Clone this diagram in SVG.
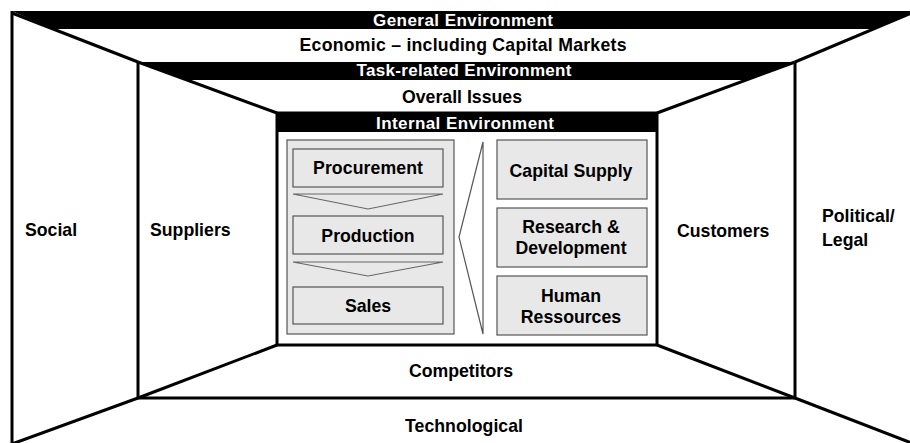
<svg xmlns="http://www.w3.org/2000/svg" width="910" height="443" viewBox="0 0 910 443">
<style>
text{font-family:"Liberation Sans",Arial,sans-serif;font-weight:bold;fill:#000;font-size:17.7px;}
.w{fill:#fff;}
.c{text-anchor:middle;}
.ln{stroke:#000;stroke-width:3;fill:none;}
.bar{fill:#000;}
.box{fill:#e8e8e8;stroke:#555;stroke-width:1.2;}
.chev{fill:#e8e8e8;stroke:#666;stroke-width:1.2;}
</style>
<rect x="0" y="0" width="910" height="443" fill="#fff"/>
<g id="frame">
  <polygon class="bar" points="12,11 914,11 874,29 53,29"/>
  <polygon class="bar" points="138,62 795,62 746,80 187,80"/>
  <line class="ln" x1="12" y1="11" x2="12" y2="445"/>
  <line class="ln" x1="12" y1="13" x2="138" y2="62"/>
  <line class="ln" x1="914" y1="12" x2="795" y2="62"/>
  <line class="ln" x1="138" y1="62" x2="277" y2="113"/>
  <line class="ln" x1="795" y1="62" x2="657" y2="113"/>
  <line class="ln" x1="277" y1="345" x2="138" y2="398"/>
  <line class="ln" x1="657" y1="345" x2="795" y2="398"/>
  <line class="ln" x1="138" y1="398" x2="12" y2="444"/>
  <line class="ln" x1="795" y1="398" x2="914" y2="444"/>
  <polyline class="ln" points="138,62 138,398 795,398 795,62"/>
</g>
<g id="general">
  <text class="w c" x="463" y="26" style="font-size:17px" textLength="180">General Environment</text>
</g>
<g id="economic">
  <text class="c" x="463" y="51" textLength="327">Economic – including Capital Markets</text>
</g>
<g id="task">
  <text class="w c" x="464" y="76" style="font-size:17px" textLength="215">Task-related Environment</text>
</g>
<g id="overall">
  <text class="c" x="462" y="103" textLength="120">Overall Issues</text>
</g>
<g id="social"><text x="25" y="236">Social</text></g>
<g id="suppliers"><text x="150" y="236">Suppliers</text></g>
<g id="customers"><text x="677" y="237">Customers</text></g>
<g id="political"><text x="822" y="222">Political/</text><text x="822" y="246">Legal</text></g>
<g id="competitors"><text class="c" x="461" y="377" textLength="104">Competitors</text></g>
<g id="technological"><text class="c" x="464" y="432" textLength="118">Technological</text></g>
<g id="internal">
  <rect x="277" y="113" width="380" height="232" fill="#fff" stroke="#000" stroke-width="3"/>
  <rect x="277" y="113" width="380" height="19" class="bar"/>
  <text class="w c" x="465" y="129" style="font-size:17px" textLength="178">Internal Environment</text>
</g>
<g id="chain">
  <rect class="box" x="287" y="140" width="167" height="194"/>
</g>
<g id="procurement">
  <rect class="box" x="293" y="149" width="150" height="38"/>
  <text class="c" x="368" y="174" textLength="110">Procurement</text>
</g>
<g id="production">
  <rect class="box" x="293" y="216" width="150" height="38"/>
  <text class="c" x="368" y="242">Production</text>
</g>
<g id="sales">
  <rect class="box" x="293" y="287" width="150" height="37"/>
  <text class="c" x="368" y="312">Sales</text>
</g>
<g id="connectors">
  <polygon class="chev" points="293,194 443,194 368,209"/>
  <polygon class="chev" points="293,262 443,262 368,276"/>
  <polygon fill="#fff" stroke="#555" stroke-width="1.2" points="483,142 483,334 459,237"/>
</g>
<g id="capital">
  <rect class="box" x="497" y="140" width="150" height="59"/>
  <text class="c" x="571" y="177">Capital Supply</text>
</g>
<g id="research">
  <rect class="box" x="497" y="208" width="150" height="59"/>
  <text class="c" x="571" y="233">Research &amp;</text>
  <text class="c" x="571" y="254">Development</text>
</g>
<g id="human">
  <rect class="box" x="497" y="276" width="150" height="59"/>
  <text class="c" x="571" y="302">Human</text>
  <text class="c" x="571" y="323">Ressources</text>
</g>
</svg>
